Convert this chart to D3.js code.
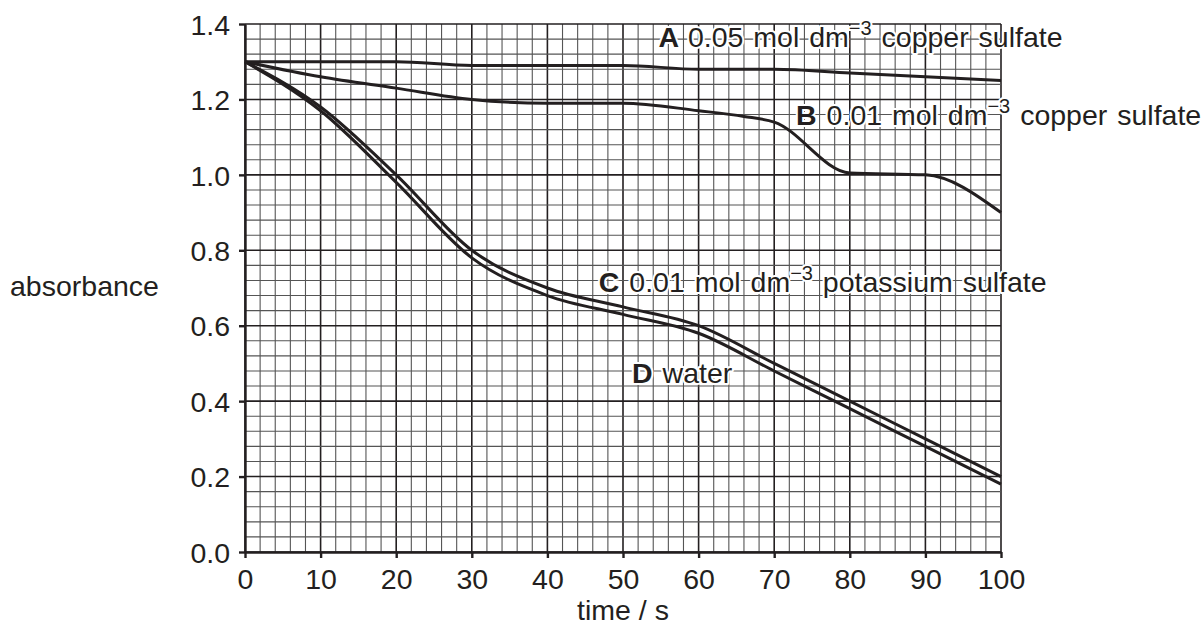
<!DOCTYPE html>
<html>
<head>
<meta charset="utf-8">
<script src="https://cdn.jsdelivr.net/npm/d3@7"></script>
<style>
  body { margin: 0; background: #fff; }
  svg text { font-family: "Liberation Sans", Arial, sans-serif; fill: #231f20; }
</style>
</head>
<body>
<div id="chart"></div>
<script>
// values
var times = [0, 10, 20, 30, 40, 50, 60, 70, 80, 90, 100];
var seriesA = [1.30, 1.30, 1.30, 1.29, 1.29, 1.29, 1.28, 1.28, 1.27, 1.26, 1.25];
var timesB = [0, 10, 20, 30, 40, 50, 60, 66, 70, 80, 90, 100];
var seriesB = [1.30, 1.26, 1.23, 1.20, 1.19, 1.19, 1.17, 1.155, 1.14, 1.005, 1.0, 0.90];
var seriesC = [1.30, 1.18, 1.00, 0.80, 0.70, 0.65, 0.60, 0.50, 0.40, 0.30, 0.20];
var seriesD = [1.30, 1.17, 0.98, 0.78, 0.68, 0.63, 0.58, 0.48, 0.38, 0.28, 0.18];

var xTicks = [0, 10, 20, 30, 40, 50, 60, 70, 80, 90, 100];
var yTicks = [0.0, 0.2, 0.4, 0.6, 0.8, 1.0, 1.2, 1.4];

// label text and where (in data units) each starts
var labels = [
  { key: "A", conc: "0.05", rest: "copper sulfate", x: 54.7, y: 1.339 },
  { key: "B", conc: "0.01", rest: "copper sulfate", x: 72.9, y: 1.132 },
  { key: "C", conc: "0.01", rest: "potassium sulfate", x: 46.8, y: 0.689 },
  { key: "D", conc: null, rest: "water", x: 51.2, y: 0.448 }
];

var W = 1204, H = 627;
var margin = { left: 245, top: 24, right: 203, bottom: 75 };
var width = W - margin.left - margin.right;
var height = H - margin.top - margin.bottom;
var fontSize = "28.5px";

var svg = d3.select("#chart").append("svg")
    .attr("width", W)
    .attr("height", H);

var g = svg.append("g")
    .attr("transform", "translate(" + margin.left + "," + margin.top + ")");

var x = d3.scaleLinear().domain([0, 100]).range([0, width]);
var y = d3.scaleLinear().domain([0, 1.4]).range([height, 0]);

// graph paper: minor every 2 s / 0.04, major every 10 s / 0.2
var grid = g.append("g").attr("class", "grid");

grid.selectAll(".vx")
    .data(d3.range(0, 101, 2))
    .enter().append("line")
    .attr("x1", function(d) { return x(d); })
    .attr("x2", function(d) { return x(d); })
    .attr("y1", 0)
    .attr("y2", height)
    .attr("stroke", function(d) { return d % 10 === 0 ? "#231f20" : "#555"; })
    .attr("stroke-width", function(d) { return d % 10 === 0 ? 1.6 : 1.1; });

grid.selectAll(".hy")
    .data(d3.range(0, 36))
    .enter().append("line")
    .attr("x1", 0)
    .attr("x2", width)
    .attr("y1", function(i) { return y(i * 0.04); })
    .attr("y2", function(i) { return y(i * 0.04); })
    .attr("stroke", function(i) { return i % 5 === 0 ? "#231f20" : "#555"; })
    .attr("stroke-width", function(i) { return i % 5 === 0 ? 1.6 : 1.1; });

// axes
var xAxis = d3.axisBottom(x).tickValues(xTicks).tickSize(6).tickPadding(11).tickSizeOuter(0);
var yAxis = d3.axisLeft(y).tickValues(yTicks).tickSize(6).tickPadding(9).tickSizeOuter(0)
    .tickFormat(d3.format(".1f"));

var xg = g.append("g")
    .attr("transform", "translate(0," + height + ")")
    .call(xAxis);
var yg = g.append("g").call(yAxis);

[xg, yg].forEach(function(a) {
  a.select(".domain").attr("stroke", "#231f20").attr("stroke-width", 2.4);
  a.selectAll(".tick line").attr("stroke", "#231f20").attr("stroke-width", 2.4);
  a.selectAll(".tick text")
      .attr("fill", "#231f20")
      .style("font-family", "'Liberation Sans', Arial, sans-serif")
      .style("font-size", fontSize);
});
yg.selectAll(".tick text").attr("dy", "0.36em");

// curves
var curves = [
  { t: times, v: seriesA },
  { t: timesB, v: seriesB },
  { t: times, v: seriesC },
  { t: times, v: seriesD }
];

var line = d3.line()
    .x(function(d) { return x(d[0]); })
    .y(function(d) { return y(d[1]); })
    .curve(d3.curveMonotoneX);

g.selectAll(".curve")
    .data(curves)
    .enter().append("path")
    .attr("class", "curve")
    .attr("fill", "none")
    .attr("stroke", "#231f20")
    .attr("stroke-width", 3)
    .attr("stroke-linejoin", "round")
    .attr("d", function(c) { return line(d3.zip(c.t, c.v)); });

// curve labels, white halo over the grid
var lab = g.selectAll(".lab")
    .data(labels)
    .enter().append("text")
    .attr("class", "lab")
    .attr("x", function(d) { return x(d.x); })
    .attr("y", function(d) { return y(d.y); })
    .style("font-size", fontSize)
    .style("word-spacing", "2px")
    .attr("stroke", "#fff")
    .attr("stroke-width", 4)
    .attr("stroke-linejoin", "round")
    .attr("paint-order", "stroke");

lab.append("tspan").style("font-weight", "bold").text(function(d) { return d.key + " "; });
lab.each(function(d) {
  var t = d3.select(this);
  if (d.conc) {
    t.append("tspan").text(d.conc + " mol dm");
    t.append("tspan").attr("dy", -12).style("font-size", "20px").text("\u22123");
    t.append("tspan").attr("dy", 12).text(" " + d.rest);
  } else {
    t.append("tspan").text(d.rest);
  }
});

// axis titles
svg.append("text")
    .attr("x", 10)
    .attr("y", 296)
    .style("font-size", fontSize)
    .text("absorbance");

svg.append("text")
    .attr("x", margin.left + width / 2)
    .attr("y", 620)
    .attr("text-anchor", "middle")
    .style("font-size", fontSize)
    .text("time / s");
</script>
</body>
</html>
